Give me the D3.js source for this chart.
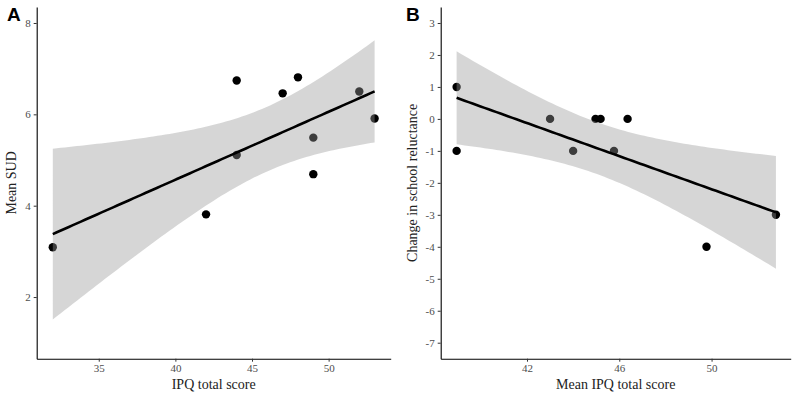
<!DOCTYPE html>
<html>
<head>
  <meta charset="utf-8">
  <title>IPQ scatter plots</title>
  <script src="https://d3js.org/d3.v7.min.js"></script>
  <style>
    body { margin: 0; background: #fff; }
    text { font-family: "Liberation Serif", "Times New Roman", serif; }
  </style>
</head>
<body>
  <svg width="800" height="400"></svg>
  <script>
    // panel A data
    var ipqA = [32, 42, 44, 44, 47, 48, 49, 49, 52, 53];
    var sudA = [3.09, 3.81, 6.74, 5.11, 6.46, 6.81, 5.49, 4.69, 6.50, 5.91];
    var xTicksA = [35, 40, 45, 50];
    var yTicksA = [2, 4, 6, 8];

    // panel B data
    var ipqB = [38.95, 38.95, 43, 44, 44.97, 45.19, 45.77, 46.36, 49.78, 52.79];
    var reluctB = [1, -1, 0, -1, 0, 0, -1, 0, -4, -3];
    var xTicksB = [42, 46, 50];
    var yTicksB = [3, 2, 1, 0, -1, -2, -3, -4, -5, -6, -7];

    var T975 = 2.306004; // t quantile, df = 8

    var svg = d3.select("svg");

    // least squares fit with 95% confidence band, like geom_smooth(method = "lm")
    function fitLine(xs, ys) {
      var n = xs.length,
          mx = d3.mean(xs), my = d3.mean(ys),
          sxx = d3.sum(xs, function(x) { return (x - mx) * (x - mx); }),
          sxy = d3.sum(xs, function(x, i) { return (x - mx) * (ys[i] - my); }),
          b = sxy / sxx, a = my - b * mx,
          sse = d3.sum(xs, function(x, i) { var r = ys[i] - a - b * x; return r * r; }),
          s = Math.sqrt(sse / (n - 2));
      var ext = d3.extent(xs);
      return d3.range(0, 81).map(function(k) {
        var x = ext[0] + (ext[1] - ext[0]) * k / 80,
            fit = a + b * x,
            se = s * Math.sqrt(1 / n + (x - mx) * (x - mx) / sxx);
        return {x: x, y: fit, lo: fit - T975 * se, hi: fit + T975 * se};
      });
    }

    function panel(opt) {
      var x = d3.scaleLinear().domain(opt.xDomain).range([opt.left, opt.right]),
          y = d3.scaleLinear().domain(opt.yDomain).range([opt.bottom, opt.top]);

      var g = svg.append("g");

      // points first, the band is drawn over them
      g.selectAll(".dot")
        .data(opt.xs)
        .enter().append("circle")
        .attr("class", "dot")
        .attr("cx", function(d) { return x(d); })
        .attr("cy", function(d, i) { return y(opt.ys[i]); })
        .attr("r", 4.2)
        .attr("fill", "#000");

      var fit = fitLine(opt.xs, opt.ys);

      g.append("path")
        .datum(fit)
        .attr("fill", "#999999")
        .attr("fill-opacity", 0.4)
        .attr("d", d3.area()
          .x(function(d) { return x(d.x); })
          .y0(function(d) { return y(d.lo); })
          .y1(function(d) { return y(d.hi); }));

      g.append("path")
        .datum(fit)
        .attr("fill", "none")
        .attr("stroke", "#000")
        .attr("stroke-width", 2.6)
        .attr("d", d3.line()
          .x(function(d) { return x(d.x); })
          .y(function(d) { return y(d.y); }));

      var fmt = function(d) { return String(d); }; // plain hyphen for negatives

      var xAxis = g.append("g")
        .attr("transform", "translate(0," + opt.bottom + ")")
        .call(d3.axisBottom(x).tickValues(opt.xTicks).tickFormat(fmt)
          .tickSize(3).tickPadding(3).tickSizeOuter(0));
      var yAxis = g.append("g")
        .attr("transform", "translate(" + opt.left + ",0)")
        .call(d3.axisLeft(y).tickValues(opt.yTicks).tickFormat(fmt)
          .tickSize(3).tickPadding(3).tickSizeOuter(0));

      [xAxis, yAxis].forEach(function(ax) {
        ax.select(".domain").attr("stroke", "#000").attr("stroke-width", 1.1);
        ax.selectAll(".tick line").attr("stroke", "#333").attr("stroke-width", 1);
        ax.selectAll(".tick text")
          .attr("fill", "#4d4d4d")
          .style("font-family", "'Liberation Serif', serif")
          .style("font-size", "11px");
      });

      g.append("text")
        .attr("x", (opt.left + opt.right) / 2)
        .attr("y", 389)
        .attr("text-anchor", "middle")
        .style("font-size", "14px")
        .attr("fill", "#222")
        .text(opt.xTitle);

      g.append("text")
        .attr("transform", "translate(" + opt.yTitleX + "," + (opt.top + opt.bottom) / 2 + ") rotate(-90)")
        .attr("text-anchor", "middle")
        .style("font-size", "14px")
        .attr("fill", "#222")
        .text(opt.yTitle);

      g.append("text")
        .attr("x", opt.tagX)
        .attr("y", 21)
        .style("font-family", "'Liberation Sans', Arial, sans-serif")
        .style("font-weight", "bold")
        .style("font-size", "19px")
        .text(opt.tag);
    }

    panel({
      xs: ipqA, ys: sudA,
      xDomain: [30.95, 54.05], yDomain: [0.65, 8.35],
      xTicks: xTicksA, yTicks: yTicksA,
      left: 36.7, right: 390.7, top: 7, bottom: 358.7,
      xTitle: "IPQ total score", yTitle: "Mean SUD",
      yTitleX: 16, tag: "A", tagX: 7
    });

    panel({
      xs: ipqB, ys: reluctB,
      xDomain: [38.26, 53.43], yDomain: [-7.5, 3.5],
      xTicks: xTicksB, yTicks: yTicksB,
      left: 440.7, right: 790.7, top: 7, bottom: 358.7,
      xTitle: "Mean IPQ total score", yTitle: "Change in school reluctance",
      yTitleX: 417, tag: "B", tagX: 406
    });
  </script>
</body>
</html>
